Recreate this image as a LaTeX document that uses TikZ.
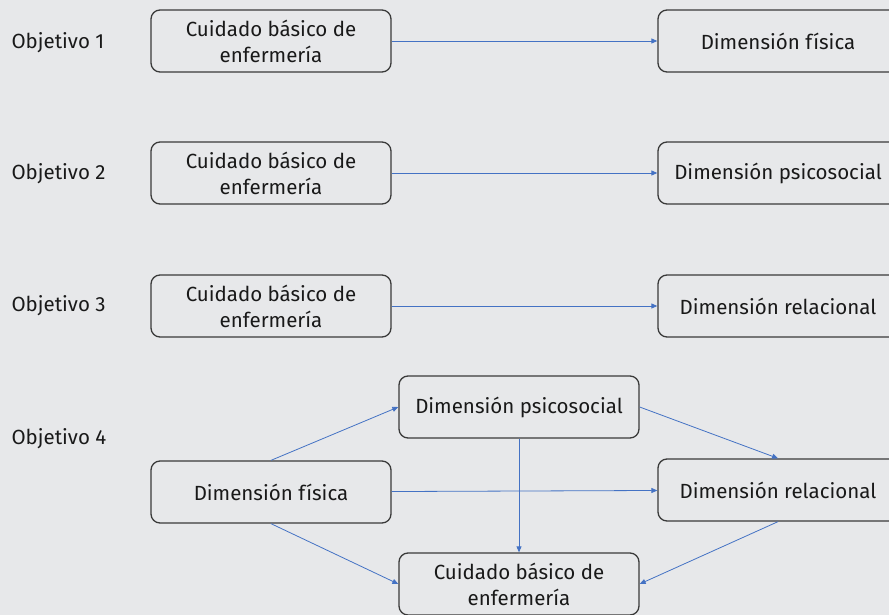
\documentclass[tikz,border=0pt]{standalone}
\usepackage{fontspec}
\setmainfont{Fira Sans}
\usetikzlibrary{arrows.meta,positioning}
\definecolor{bggray}{HTML}{E7E8EA}
\definecolor{edgeblue}{HTML}{4472C4}
\definecolor{boxline}{HTML}{3A3A3A}

\begin{document}
\begin{tikzpicture}[x=1pt,y=-1pt,->,>={Triangle[length=6pt,width=5pt]},
                    font=\fontsize{20.5}{26}\selectfont]
	  \tikzstyle{box}=[draw=boxline,line width=1.3pt,rounded corners=9pt,
	                   minimum width=240pt,minimum height=62pt,align=center,
	                   text=black!90]
	  \tikzstyle{link}=[edgeblue,line width=0.8pt]
	  \tikzstyle{goal}=[anchor=west,text=black!90]

	  \fill[bggray] (0,0) rectangle (889,615);
	  \useasboundingbox (0,0) rectangle (889,615);

	  % objetivos 1-3
	  \node[goal] (G1) at (8,43)  {Objetivo 1};
	  \node[goal] (G2) at (8,174) {Objetivo 2};
	  \node[goal] (G3) at (8,306) {Objetivo 3};
	  \node[goal] (G4) at (8,439) {Objetivo 4};

	  \node[box] (C1) at (271,41)  {Cuidado básico de\\enfermería};
	  \node[box] (C2) at (271,173) {Cuidado básico de\\enfermería};
	  \node[box] (C3) at (271,306) {Cuidado básico de\\enfermería};

	  \node[box] (D1) at (778,41)  {Dimensión física};
	  \node[box] (D2) at (778,173) {Dimensión psicosocial};
	  \node[box] (D3) at (778,306) {Dimensión relacional};

	  % objetivo 4
	  \node[box] (P4) at (519,407) {Dimensión psicosocial};
	  \node[box] (F4) at (271,492) {Dimensión física};
	  \node[box] (R4) at (778,490) {Dimensión relacional};
	  \node[box] (C4) at (519,584) {Cuidado básico de\\enfermería};

	  \path[link] (C1) edge (D1)
	        (C2) edge (D2)
	        (C3) edge (D3)
	        (F4.north) edge (P4.west)
	        (F4) edge (R4)
	        (F4.south) edge (C4.west)
	        (P4.east) edge (R4.north)
	        (P4) edge (C4)
	        (R4.south) edge (C4.east);
\end{tikzpicture}
\end{document}
